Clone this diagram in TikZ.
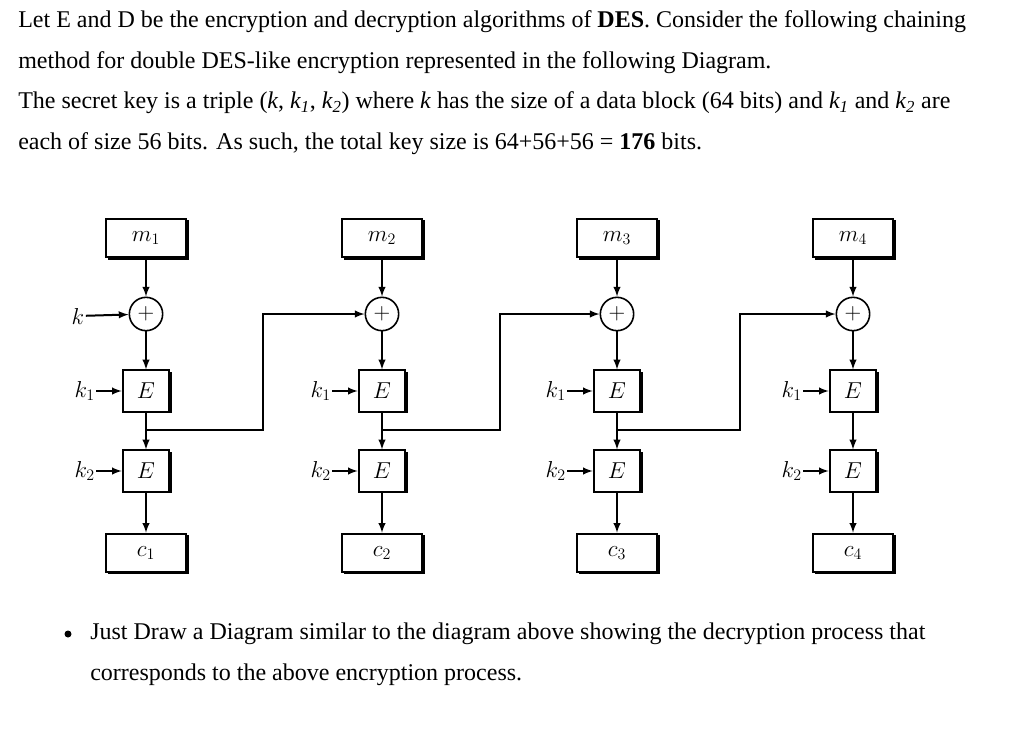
\documentclass[tikz,border=0pt]{standalone}
\usepackage{fontspec}
\setmainfont{Liberation Serif}
\usetikzlibrary{positioning}
\begin{document}
\begin{tikzpicture}[x=0.75pt,y=-0.75pt]
  \tikzstyle{txt}=[anchor=west, inner sep=0pt, font=\fontsize{18}{20}\selectfont]
  \tikzstyle{blk}=[rectangle, draw=black, line width=1.4pt, fill=white, minimum width=60pt, minimum height=29pt, font=\fontsize{17}{19}\selectfont]
  \tikzstyle{enc}=[rectangle, draw=black, line width=1.4pt, fill=white, minimum width=35pt, minimum height=31pt, font=\fontsize{17}{19}\selectfont]
  \tikzstyle{xor}=[circle, draw=black, line width=1.2pt, fill=white, minimum size=25pt, inner sep=0pt, font=\fontsize{17}{19}\selectfont]
  \tikzstyle{lbl}=[inner sep=1pt, font=\fontsize{17}{19}\selectfont]
  \tikzstyle{edge}=[line width=1.5pt, -latex]
  \useasboundingbox (0,0) rectangle (1024,750);

  \node[txt] (l1) at (18,22)  {Let E and D be the encryption and decryption algorithms of \textbf{DES}. Consider the following chaining};
  \node[txt] (l2) at (18,63)  {method for double DES-like encryption represented in the following Diagram.};
  \node[txt] (l3) at (18,103) {The secret key is a triple (\textit{k}, \textit{k\textsubscript{1}}, \textit{k\textsubscript{2}}) where \textit{k} has the size of a data block (64 bits) and \textit{k\textsubscript{1}} and \textit{k\textsubscript{2}} are};
  \node[txt] (l4) at (18,144) {each of size 56 bits. As such, the total key size is 64+56+56 = \textbf{176} bits.};

  \foreach \i/\x in {1/146,2/382,3/617,4/853}{
    \fill (\x-38,220) rectangle (\x+43,260);
    \node[blk] (m\i) at (\x,238) {$m_\i$};
    \node[xor] (x\i) at (\x,314) {$+$};
    \fill (\x-22,372) rectangle (\x+26,413);
    \node[enc] (ea\i) at (\x,391) {$E$};
    \fill (\x-22,452) rectangle (\x+26,493);
    \node[enc] (eb\i) at (\x,471) {$E$};
    \fill (\x-38,535) rectangle (\x+43,574);
    \node[blk] (c\i) at (\x,553) {$c_\i$};
    \coordinate (j\i) at (\x,430);
    \node[lbl, left=19pt of ea\i] (ka\i) {$k_1$};
    \node[lbl, left=19pt of eb\i] (kb\i) {$k_2$};
    \draw[edge] (ka\i) -- (ea\i);
    \draw[edge] (kb\i) -- (eb\i);
    \draw[edge] (m\i) -- (x\i);
    \draw[edge] (x\i) -- (ea\i);
    \draw[edge] (ea\i) -- (eb\i);
    \draw[edge] (eb\i) -- (c\i);
  }
  \node[lbl] (k) at (78,316) {$k$};
  \draw[edge] (k) -- (x1);
  \draw[edge] (j1) -| (263,314) -- (x2);
  \draw[edge] (j2) -| (500,314) -- (x3);
  \draw[edge] (j3) -| (740,314) -- (x4);

  \fill (68,634) circle (3.5);
  \node[txt] (l5) at (90,634) {Just Draw a Diagram similar to the diagram above showing the decryption process that};
  \node[txt] (l6) at (90,675) {corresponds to the above encryption process.};
\end{tikzpicture}
\end{document}
